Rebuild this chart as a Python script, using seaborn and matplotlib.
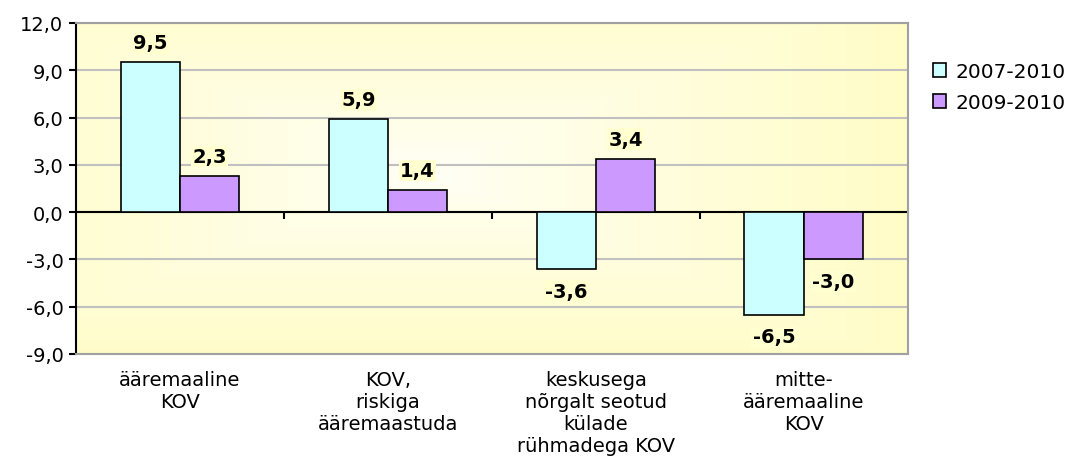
import numpy as np
import pandas as pd
import seaborn as sns
import matplotlib.pyplot as plt
from matplotlib.ticker import FuncFormatter, FixedLocator

# data
categories = ['ääremaaline\nKOV', 'KOV,\nriskiga\nääremaastuda',
              'keskusega\nnõrgalt seotud\nkülade\nrühmadega KOV', 'mitte-\nääremaaline\nKOV']
periods = ['2007-2010', '2009-2010']
values_0710 = [9.5, 5.9, -3.6, -6.5]
values_0910 = [2.3, 1.4, 3.4, -3.0]
colors = ['#CCFFFF', '#CC99FF']

df = pd.DataFrame({
    'category': categories * 2,
    'period': [periods[0]] * 4 + [periods[1]] * 4,
    'value': values_0710 + values_0910,
})

sns.set_style("white")
plt.rcParams['font.family'] = ['DejaVu Sans']
plt.rcParams['text.color'] = 'black'
plt.rcParams['xtick.color'] = 'black'
plt.rcParams['ytick.color'] = 'black'

fig = plt.figure(figsize=(10.76, 4.77), dpi=100)
ax = fig.add_axes([0.0706, 0.2558, 0.773, 0.694])

# yellow background, lighter towards the middle
gx, gy = np.meshgrid(np.linspace(0, 1, 300), np.linspace(0, 1, 150))
d = np.clip(np.maximum(np.abs(gx - 0.42) / 0.6, np.abs(gy - 0.45) / 0.6), 0, 1)
edge = np.array([1.0, 0.99, 0.78])
centre = np.array([1.0, 1.0, 0.97])
img = centre + (edge - centre) * d[..., None] ** 0.8
ax.imshow(img, extent=[0, 1, 0, 1], transform=ax.transAxes, aspect='auto', zorder=0)

sns.barplot(data=df, x='category', y='value', hue='period', palette=colors, saturation=1,
            width=0.57, edgecolor='black', linewidth=1.2, ax=ax, legend=True)

ax.set_xlim(-0.5, 3.5)
ax.set_ylim(-9, 12)
ax.set_yticks(np.arange(-9, 13, 3))
ax.yaxis.set_major_formatter(FuncFormatter(lambda v, p: f'{v:.1f}'.replace('.', ',')))
ax.set_axisbelow(True)
ax.grid(axis='y', color='#C0C0C0', linewidth=1.5)
ax.set_xlabel('')
ax.set_ylabel('')
ax.tick_params(axis='y', left=True, length=5, width=1.5, labelsize=14, color='black', pad=4)
ax.tick_params(axis='x', bottom=False, labelsize=14, pad=8)

for side in ['top', 'right', 'bottom']:
    ax.spines[side].set_color('#A0A0A0')
    ax.spines[side].set_linewidth(1.5)
ax.spines['left'].set_color('black')
ax.spines['left'].set_linewidth(1.5)

# zero axis with ticks between categories
ax.axhline(0, color='black', linewidth=1.5, zorder=0.8)
zero = ax.secondary_xaxis(9 / 21)
zero.xaxis.set_major_locator(FixedLocator([0.5, 1.5, 2.5]))
zero.tick_params(axis='x', direction='out', length=5, width=1.5, labelbottom=False)
zero.spines['bottom'].set_visible(False)

# value labels
for container in ax.containers:
    for b in container:
        h = b.get_height()
        x = b.get_x() + b.get_width() / 2
        lab = f'{h:.1f}'.replace('.', ',')
        off = 14 if h >= 0 else -16
        ax.annotate(lab, (x, h), xytext=(0, off), textcoords='offset points',
                    ha='center', va='center', fontsize=14, fontweight='bold',
                    bbox=dict(facecolor='#FFFFD0', edgecolor='none', pad=1), zorder=5)

handles, labs = ax.get_legend_handles_labels()
ax.legend(handles, labs, loc='upper left', bbox_to_anchor=(1.009, 0.937), frameon=False,
          fontsize=14.5, handlelength=0.65, handleheight=0.65, handletextpad=0.45, labelspacing=0.6)

fig.savefig('out.png', dpi=100)
